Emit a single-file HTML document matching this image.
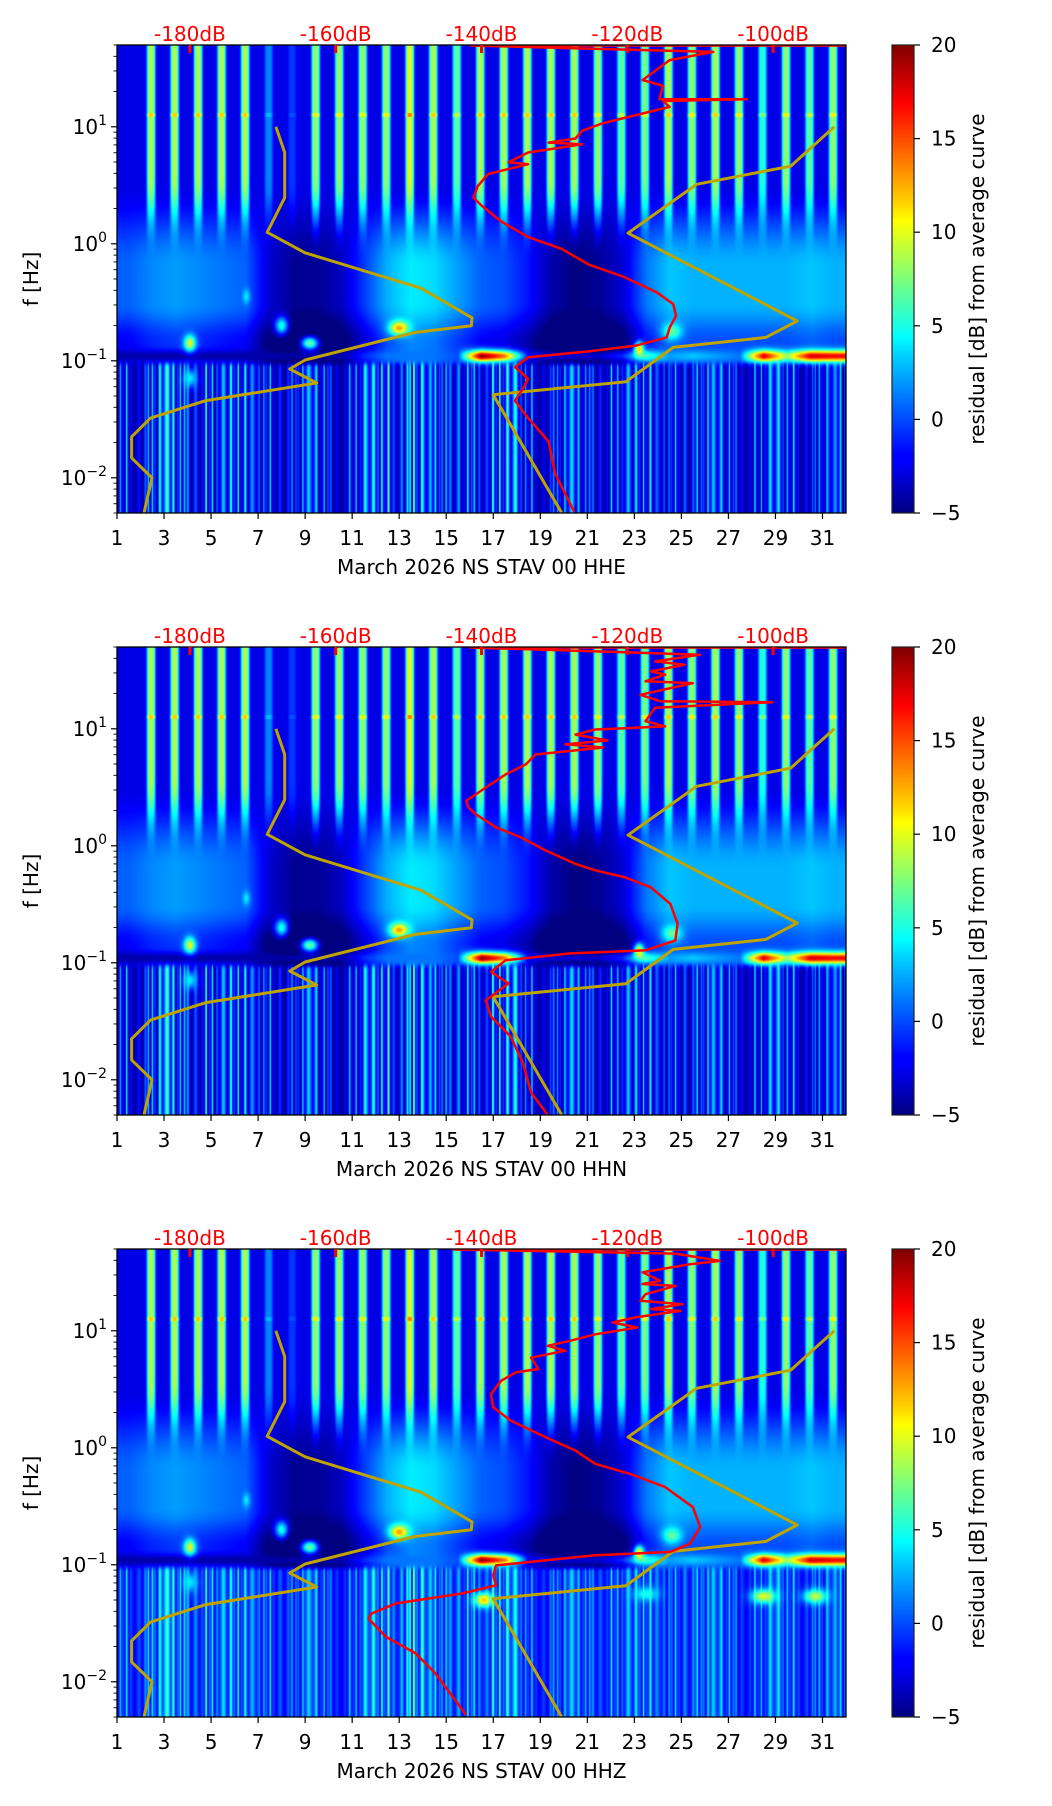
<!DOCTYPE html>
<html><head><meta charset="utf-8">
<style>
body{margin:0;width:1052px;height:1806px;background:#fff;position:relative;overflow:hidden;font-family:"DejaVu Sans","Liberation Sans",sans-serif}
canvas{position:absolute}
svg{position:absolute;left:0;top:0}
</style></head>
<body>
<svg id="fig" width="1052" height="1806"></svg>
<script>
// ---------- data ----------
const days=[1,2,3,4,5,6,7,8,9,10,11,12,13,14,15,16,17,18,19,20,21,22,23,24,25,26,27,28,29,30,31];
const xTicks=[1,3,5,7,9,11,13,15,17,19,21,23,25,27,29,31];
const yTickExp=[-2,-1,0,1];
const dbTicks=[-180,-160,-140,-120,-100];
const cbTicks=[-5,0,5,10,15,20];
const stripeAmp=[0,0.85,0.85,0.85,0.85,0.85,0.3,0.15,0.8,0.8,0.8,0.8,0.95,0.85,0.7,0.85,0.85,0.85,0.85,0.85,0.8,0.7,0.75,0.85,0.8,0.85,0.8,0.6,0.8,0.7,0.8];
const midLevel=[0.5,1.5,2,1.5,1,0.5,-3,-4.5,-4.5,-3.5,-0.5,2.5,4,3.5,2,0.5,0,-1.5,-4,-5,-4.5,-3,1,3,2.5,2.5,2.5,2.5,2.5,3,2.5];
const microLevel=[-4,-4,-4,-4,-4,-4,-4,-4,-4,-4,-1,1,1,1,0,20,14,-2,-3,-3,-3,-1,6,2,3,2,1,18,8,18,17];
const lowLevel=[4,6,6,6,6,5,4,3,4,3,4,7,11,5,4,7,6,3,4,3,5,4,5,4,5,4,4,3,4,4,4];
const blobs=[[4.1,-0.85,10,0.25,0.07],[4.1,-1.15,4,0.3,0.08],[8.0,-0.7,5,0.3,0.08],[9.2,-0.85,7,0.4,0.06],[6.5,-0.45,4,0.15,0.06],[13,-0.72,13,0.4,0.06],[23.2,-0.9,12,0.2,0.06],[24.6,-0.75,7,0.4,0.07]];
const blobsZ=[[16.6,-1.3,12,0.4,0.06],[28.5,-1.27,10,0.5,0.06],[30.7,-1.27,9,0.5,0.06],[23.5,-1.25,5,0.5,0.06]];
const nlnmDb=[-168.2,-167.0,-167.0,-169.4,-164.2,-148.3,-141.3,-141.4,-149.2,-164.2,-166.3,-162.6,-177.8,-185.4,-188.0,-188.0,-185.2,-186.3];
const nlnmLogF=[1.0,0.78,0.394,0.098,-0.077,-0.38,-0.633,-0.70,-0.758,-0.993,-1.07,-1.19,-1.34,-1.49,-1.65,-1.83,-2.0,-2.30];
const nhnmDb=[-91.6,-97.6,-110.5,-119.9,-96.7,-101.0,-113.7,-120.2,-138.4,-129.0];
const nhnmLogF=[1.0,0.663,0.508,0.091,-0.66,-0.80,-0.886,-1.18,-1.29,-2.30];
const redDbE=[-90,-141.5,-108.2,-114.2,-115.6,-117.9,-115.1,-115.6,-103.6,-115.1,-114.2,-118.8,-123.4,-126.2,-127.1,-130.8,-126.2,-133.6,-136.3,-133.6,-139.1,-140.5,-141.1,-140.0,-137.3,-133.6,-129.0,-125.3,-120.6,-116.0,-113.7,-113.3,-114.2,-114.6,-118.8,-125.3,-133.6,-135.4,-133.6,-134.5,-135.4,-133.6,-130.8,-129.9,-127.3];
const redLogFE=[1.695,1.695,1.64,1.57,1.505,1.40,1.35,1.236,1.236,1.22,1.17,1.10,1.03,0.966,0.90,0.865,0.85,0.78,0.697,0.68,0.596,0.495,0.394,0.327,0.19,0.057,-0.044,-0.178,-0.28,-0.414,-0.515,-0.616,-0.717,-0.80,-0.87,-0.92,-0.97,-1.054,-1.155,-1.256,-1.34,-1.49,-1.69,-1.963,-2.29];
const redDbN=[-90,-141.5,-110.0,-116.2,-112.1,-116.8,-114.8,-117.5,-111.0,-118.2,-115.5,-100.1,-116.2,-117.5,-114.8,-124.4,-127.1,-122.7,-128.5,-123.3,-132.6,-133.9,-136.7,-139.4,-142.1,-141.8,-140.8,-138.0,-134.6,-131.2,-127.1,-124.4,-120.3,-116.8,-114.1,-113.1,-113.4,-117.5,-127.8,-136.7,-138.7,-136.3,-139.4,-138.7,-136.0,-134.3,-133.2,-130.9];
const redLogFN=[1.695,1.695,1.633,1.576,1.548,1.49,1.463,1.406,1.39,1.29,1.236,1.227,1.18,1.065,1.02,0.994,0.95,0.90,0.867,0.84,0.78,0.696,0.61,0.498,0.384,0.327,0.27,0.157,0.072,-0.04,-0.155,-0.21,-0.27,-0.354,-0.496,-0.666,-0.81,-0.893,-0.92,-0.978,-1.078,-1.177,-1.32,-1.46,-1.63,-1.86,-2.11,-2.30];
const redDbZ=[-90,-143.8,-113.4,-107.3,-111.4,-117.9,-115.5,-117.9,-113.4,-117.5,-118.2,-112.4,-116.8,-112.7,-118.9,-122.0,-118.6,-124.4,-127.8,-130.9,-128.5,-133.2,-132.2,-135.3,-137.3,-138.7,-138.4,-136.0,-131.2,-127.1,-124.4,-119.6,-114.8,-111.0,-110.0,-111.4,-114.1,-124.4,-138.0,-138.4,-138.0,-142.8,-151.7,-155.1,-155.5,-153.1,-149.0,-146.3,-142.1];
const redLogFZ=[1.695,1.695,1.66,1.597,1.569,1.50,1.427,1.40,1.384,1.313,1.256,1.227,1.185,1.17,1.114,1.071,1.028,0.97,0.915,0.872,0.83,0.77,0.673,0.644,0.573,0.46,0.346,0.232,0.09,-0.024,-0.137,-0.223,-0.336,-0.507,-0.678,-0.82,-0.89,-0.919,-1.005,-1.09,-1.175,-1.246,-1.33,-1.417,-1.46,-1.616,-1.758,-1.93,-2.284];

// ---------- layout ----------
const PL=117,PR=846,PW=PR-PL,PH=468;
const LT=Math.log10(50),LB=Math.log10(0.005);
const NS="http://www.w3.org/2000/svg";
const fig=document.getElementById('fig');
function xDay(d){return PL+(d-1)/31*PW;}
function xDb(db){return PL+(db+190)/100*PW;}
function yL(top,L){return top+(LT-L)/(LT-LB)*PH;}
function el(tag,attrs,parent){const e=document.createElementNS(NS,tag);for(const k in attrs)e.setAttribute(k,attrs[k]);(parent||fig).appendChild(e);return e;}
function jet(v){let x=(v+5)/25;x=Math.max(0,Math.min(1,x));const c=q=>Math.max(0,Math.min(1,1.5-Math.abs(4*x-q)));return [c(3)*255,c(2)*255,c(1)*255];}
function sm(a,b,x){let t=(x-a)/(b-a);t=Math.max(0,Math.min(1,t));return t*t*(3-2*t);}
function interp(arr,t){let x=t-1.5;let i=Math.floor(x);if(i<0)return arr[0];if(i>=arr.length-1)return arr[arr.length-1];const f=x-i;return arr[i]*(1-f)+arr[i+1]*f;}

const defs=el('defs',{});
const grad=el('linearGradient',{id:'jetg',x1:0,y1:1,x2:0,y2:0},defs);
[[0,'#00007f'],[0.11,'#0000ff'],[0.125,'#0000ff'],[0.34,'#00d4ff'],[0.375,'#00ffff'],[0.5,'#7dff7a'],[0.625,'#ffff00'],[0.66,'#ffd400'],[0.875,'#ff0000'],[1,'#7f0000']].forEach(s=>el('stop',{offset:s[0],'stop-color':s[1]},grad));

function panel(k,top,chan,rDb,rL,lowFloor,extraBlobs){
  const cv=document.createElement('canvas');
  cv.width=PW;cv.height=PH;cv.style.left=PL+'px';cv.style.top=top+'px';
  
  
  document.body.insertBefore(cv,fig);
  const ctx=cv.getContext('2d');const img=ctx.createImageData(PW,PH);
  const allB=blobs.concat(extraBlobs);
  const cs=[],cm=[],cl=[],cmi=[],cst=[];
  for(let c=0;c<PW;c++){
    const t=1+(c+0.5)/PW*31;let s=0;
    for(let i=0;i<days.length;i++){const z=(t-(days[i]+0.45))/0.18;s+=stripeAmp[i]*Math.exp(-z*z*z*z);}
    cs.push(s);cm.push(interp(midLevel,t));cl.push(interp(lowLevel,t));cmi.push(interp(microLevel,t));
    const q=0.5+0.5*Math.sin(t*21.7+Math.sin(t*5.1)*3)*Math.sin(t*9.3+1);cst.push(0.1+1.0*q*q);
  }
  for(let r=0;r<PH;r++){
    const L=LT-(r+0.5)/PH*(LT-LB);
    const wHi=sm(-0.2,0.5,L),fade=sm(-0.35,0.6,L),wLow=sm(-0.98,-1.06,L),dark=sm(-0.5,-0.85,L);
    const mz=(L+0.96)/0.05;
    const mg=Math.exp(-mz*mz);
    const line=Math.abs(L-1.1)<0.02;
    for(let c=0;c<PW;c++){
      const t=1+(c+0.5)/PW*31;
      let vHi=-2.5+cs[c]*13*fade;if(line)vHi+=4*cs[c];
      const vMid=cm[c]-2.5*dark;
      let v=vHi*wHi+vMid*(1-wHi);
      const vLow=lowFloor+(cl[c]-lowFloor)*cst[c];
      v=v*(1-wLow)+vLow*wLow;
      v=v*(1-mg)+cmi[c]*mg;
      for(const b of allB){const dx=(t-b[0])/b[3],dy=(L-b[1])/b[4];const d=dx*dx+dy*dy;if(d<6){const gg=Math.exp(-d);if(b[2]>v)v+=(b[2]-v)*gg;}}
      const col=jet(v);const p=(r*PW+c)*4;img.data[p]=col[0];img.data[p+1]=col[1];img.data[p+2]=col[2];img.data[p+3]=255;
    }
  }
  ctx.putImageData(img,0,0);

  const g=el('g',{});
  
  
  const cp=el('clipPath',{id:'clip'+k},defs);el('rect',{x:PL,y:top,width:PW,height:PH},cp);
  const lines=el('g',{'clip-path':'url(#clip'+k+')'},g);
  const ptsA=nlnmDb.map((d,i)=>xDb(d).toFixed(1)+','+yL(top,nlnmLogF[i]).toFixed(1)).join(' ');
  const nl=el('polyline',{points:ptsA,fill:'none',stroke:'#bfa300','stroke-width':3,'stroke-linejoin':'round'},lines);
  
  
  const ptsB=nhnmDb.map((d,i)=>xDb(d).toFixed(1)+','+yL(top,nhnmLogF[i]).toFixed(1)).join(' ');
  const nh=el('polyline',{points:ptsB,fill:'none',stroke:'#bfa300','stroke-width':3,'stroke-linejoin':'round'},lines);
  
  
  const ptsR=rDb.map((d,i)=>xDb(d).toFixed(1)+','+yL(top,rL[i]).toFixed(1)).join(' ');
  const rl=el('polyline',{points:ptsR,fill:'none',stroke:'#ff0000','stroke-width':2.5,'stroke-linejoin':'round'},lines);
  
  
  const fr=el('rect',{x:PL,y:top,width:PW,height:PH,fill:'none',stroke:'#000','stroke-width':1.3},g);
  
  
  dbTicks.forEach(d=>{
    const x=xDb(d);
    el('line',{x1:x,y1:top,x2:x,y2:top+8,stroke:'#ff0000','stroke-width':3},g);
    const t=el('text',{x:x,y:top-4,'text-anchor':'middle','font-size':20,fill:'#ff0000'},g);t.textContent=d+'dB';
    
    
  });
  xTicks.forEach(d=>{
    const x=xDay(d);
    el('line',{x1:x,y1:top+PH,x2:x,y2:top+PH+6,stroke:'#000','stroke-width':1.2},g);
    const t=el('text',{x:x,y:top+PH+32,'text-anchor':'middle','font-size':20,fill:'#000'},g);t.textContent=d;
    
    
  });
  const xt=el('text',{x:(PL+PR)/2,y:top+PH+61,'text-anchor':'middle','font-size':20,fill:'#000'},g);
  xt.textContent='March 2026 NS STAV 00 '+chan;
  
  
  for(let e=-3;e<=1;e++){for(let m=1;m<10;m++){const L=e+Math.log10(m);if(L<LB||L>LT)continue;const y=yL(top,L);
    el('line',{x1:PL,y1:y,x2:PL-(m===1?6:3.5),y2:y,stroke:'#000','stroke-width':m===1?1.2:0.9},g);}}
  yTickExp.forEach(e=>{
    const y=yL(top,e);
    const t=el('text',{x:PL-10,y:y+7,'text-anchor':'end','font-size':20,fill:'#000'},g);
    const a=el('tspan',{},t);a.textContent='10';
    const b=el('tspan',{dy:-9,'font-size':14},t);b.textContent=e<0?'\u2212'+(-e):String(e);
    
    
  });
  const yt=el('text',{x:0,y:0,'text-anchor':'middle','font-size':20,fill:'#000',transform:'translate(38,'+(top+PH/2)+') rotate(-90)'},g);
  yt.textContent='f [Hz]';
  
  
  const cb=el('rect',{x:892,y:top,width:22,height:PH,fill:'url(#jetg)',stroke:'#222','stroke-width':1.2},g);
  
  
  cbTicks.forEach(v=>{
    const y=top+PH-(v+5)/25*PH;
    el('line',{x1:914,y1:y,x2:920,y2:y,stroke:'#000','stroke-width':1.2},g);
    const t=el('text',{x:931,y:y+7,'font-size':20,fill:'#000'},g);t.textContent=v<0?'\u2212'+(-v):String(v);
    
    
  });
  const cl2=el('text',{x:0,y:0,'text-anchor':'middle','font-size':20,fill:'#000',transform:'translate(984,'+(top+PH/2)+') rotate(-90)'},g);
  cl2.textContent='residual [dB] from average curve';
  
  
}
panel(1,45,'HHE',redDbE,redLogFE,-5,[]);
panel(2,647,'HHN',redDbN,redLogFN,-5,[]);
panel(3,1249,'HHZ',redDbZ,redLogFZ,-2.5,blobsZ);
</script>
</body></html>
